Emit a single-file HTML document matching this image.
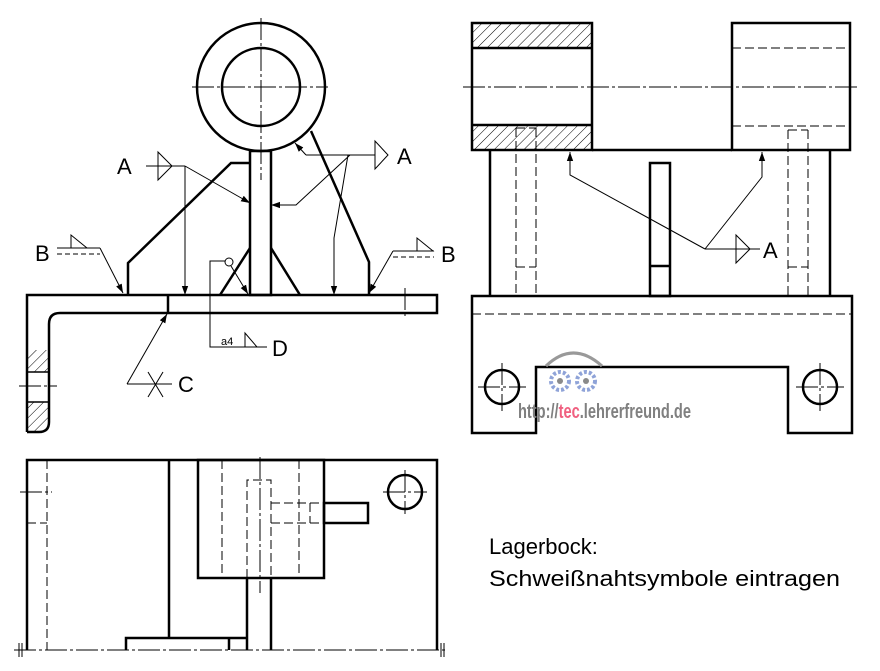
<!DOCTYPE html>
<html><head><meta charset="utf-8"><style>
html,body{margin:0;padding:0;background:#fff}
svg{display:block}
text{font-family:"Liberation Sans",sans-serif}
</style></head><body>
<svg width="880" height="671" viewBox="0 0 880 671" xmlns="http://www.w3.org/2000/svg">
<defs>
<pattern id="h" width="7" height="7" patternUnits="userSpaceOnUse" patternTransform="rotate(45)">
<line x1="0" y1="0" x2="0" y2="7" stroke="#000" stroke-width="1"/>
</pattern>
<marker id="ar" viewBox="0 0 10 10" refX="10" refY="5" markerWidth="9" markerHeight="9" markerUnits="userSpaceOnUse" orient="auto">
<path d="M0,1.5 L10,5 L0,8.5 z" fill="#000"/>
</marker>
</defs>
<rect width="880" height="671" fill="#fff"/>

<!-- ===== LEFT VIEW ===== -->
<rect x="28" y="350" width="20" height="22" fill="url(#h)"/>
<rect x="28" y="402" width="20" height="29" fill="url(#h)"/>
<g fill="none" stroke="#000" stroke-width="2.5" stroke-linejoin="miter">
<circle cx="261" cy="87" r="64"/>
<circle cx="261" cy="87" r="39"/>
<rect x="250" y="151" width="21" height="144"/>
<!-- plate -->
<path d="M27,432 V295 H437 V313 H168"/>
<path d="M168,295 V313"/>
<path d="M168,313 H60 Q49,313 49,324 V422 Q49,432 39,432 H27"/>
<!-- ribs -->
<path d="M250,163 H231 L128,263 V295"/>
<path d="M311,131 L369,262 V295"/>
<path d="M250,248 L220,295 M271,248 L300,295"/>
<line x1="27" y1="372" x2="49" y2="372" stroke-width="1.5"/>
<line x1="27" y1="402" x2="49" y2="402" stroke-width="1.5"/>
</g>
<g stroke="#000" stroke-width="1" fill="none" stroke-dasharray="22,3,3,3">
<line x1="192" y1="87" x2="328" y2="87"/>
<line x1="261" y1="18" x2="261" y2="180"/>
<line x1="19" y1="386" x2="57" y2="386"/>
<line x1="405" y1="288" x2="405" y2="317"/>
</g>

<!-- annotations left -->
<g stroke="#000" stroke-width="1" fill="none">
<line x1="146" y1="166" x2="185" y2="166"/>
<path d="M158,152 V180 L172,166 Z"/>
<line x1="185" y1="166" x2="185" y2="295" marker-end="url(#ar)"/>
<line x1="185" y1="166" x2="250" y2="203" marker-end="url(#ar)"/>
<line x1="306" y1="155" x2="375" y2="155"/>
<path d="M375,141 V169 L388,155 Z"/>
<line x1="306" y1="155" x2="295" y2="143" marker-end="url(#ar)"/>
<polyline points="350,155 296,205 271,205" marker-end="url(#ar)"/>
<polyline points="348,155 334,238 334,295" marker-end="url(#ar)"/>
<line x1="57" y1="248" x2="100" y2="248"/>
<line x1="57" y1="254" x2="100" y2="254" stroke-dasharray="5,3"/>
<path d="M71,235 V248 H87 Z"/>
<line x1="100" y1="248" x2="123" y2="293" marker-end="url(#ar)"/>
<line x1="393" y1="251" x2="434" y2="251"/>
<line x1="393" y1="257" x2="434" y2="257" stroke-dasharray="5,3"/>
<path d="M417,238 V251 H433 Z"/>
<line x1="393" y1="251" x2="369" y2="293" marker-end="url(#ar)"/>
<polyline points="267,347 210,347 210,261 225,261"/>
<circle cx="229" cy="262" r="4"/>
<line x1="231" y1="266" x2="248" y2="294" marker-end="url(#ar)"/>
<path d="M245,333 V347 H257 Z"/>
<line x1="127" y1="384" x2="172" y2="384"/>
<line x1="148" y1="372" x2="163" y2="397"/>
<line x1="163" y1="372" x2="148" y2="397"/>
<line x1="127" y1="384" x2="167" y2="314" marker-end="url(#ar)"/>
</g>
<g font-size="22" fill="#000">
<text x="117" y="174">A</text>
<text x="397" y="164">A</text>
<text x="35" y="261">B</text>
<text x="441" y="262">B</text>
<text x="272" y="356">D</text>
<text x="178" y="392">C</text>
</g>
<text x="221" y="345" font-size="11">a4</text>

<!-- ===== RIGHT VIEW ===== -->
<rect x="473" y="24" width="118" height="24" fill="url(#h)"/>
<rect x="473" y="126" width="118" height="24" fill="url(#h)"/>
<g fill="none" stroke="#000" stroke-width="2.5">
<rect x="472" y="23" width="120" height="127"/>
<line x1="472" y1="48" x2="592" y2="48"/>
<line x1="472" y1="125" x2="592" y2="125"/>
<rect x="732" y="23" width="118" height="127"/>
<line x1="592" y1="150" x2="732" y2="150"/>
<line x1="490" y1="150" x2="490" y2="296"/>
<line x1="830" y1="150" x2="830" y2="296"/>
<rect x="650" y="163" width="20" height="133"/>
<line x1="650" y1="266" x2="670" y2="266"/>
<path d="M472,296 H852 V433 H788 V367 H536 V433 H472 Z"/>
<circle cx="502" cy="387" r="17"/>
<circle cx="820" cy="387" r="17"/>
</g>
<g fill="none" stroke="#000" stroke-width="1" stroke-dasharray="9,4">
<line x1="732" y1="48" x2="850" y2="48"/>
<line x1="732" y1="126" x2="850" y2="126"/>
<path d="M516,128 V296 M536,128 V296 M516,267 H536 M516,128 H536"/>
<path d="M788,130 V296 M808,130 V296 M788,130 H808 M788,267 H808"/>
<line x1="472" y1="314" x2="852" y2="314"/>
</g>
<g stroke="#000" stroke-width="1" fill="none" stroke-dasharray="22,3,3,3">
<line x1="463" y1="87" x2="858" y2="87"/>
<line x1="478" y1="387" x2="526" y2="387"/>
<line x1="502" y1="363" x2="502" y2="411"/>
<line x1="796" y1="387" x2="844" y2="387"/>
<line x1="820" y1="363" x2="820" y2="411"/>
</g>
<g stroke="#000" stroke-width="1" fill="none">
<polyline points="705,249 570,175 570,152" marker-end="url(#ar)"/>
<polyline points="705,249 762,177 762,152" marker-end="url(#ar)"/>
<line x1="705" y1="249" x2="760" y2="249"/>
<path d="M736,235 V263 L750,249 Z"/>
</g>
<text x="763" y="258" font-size="22" fill="#000">A</text>

<!-- watermark -->
<g fill="none" stroke="#8fa3d8" stroke-width="4" stroke-dasharray="3,2">
<circle cx="560" cy="381" r="9"/>
<circle cx="586" cy="381" r="9"/>
</g>
<circle cx="560" cy="381" r="3" fill="#8a8a8a"/>
<circle cx="586" cy="381" r="3" fill="#8a8a8a"/>
<path d="M546,366 Q573,340 602,366" fill="none" stroke="#999" stroke-width="3"/>
<text x="518" y="418" font-size="20" font-weight="bold" fill="#808080" textLength="173" lengthAdjust="spacingAndGlyphs">http://<tspan fill="#f06080">tec</tspan>.lehrerfreund.de</text>

<!-- ===== BOTTOM VIEW ===== -->
<g fill="none" stroke="#000" stroke-width="2.5">
<polyline points="27,650 27,460 437,460 437,650"/>
<line x1="169" y1="460" x2="169" y2="638"/>
<rect x="198" y="460" width="126" height="118"/>
<polyline points="247,578 247,650"/>
<polyline points="271,578 271,650"/>
<polyline points="126,650 126,638 247,638"/>
<line x1="229" y1="638" x2="229" y2="650"/>
<rect x="324" y="503" width="44" height="20"/>
<circle cx="405" cy="492" r="17"/>
</g>
<g fill="none" stroke="#000" stroke-width="1" stroke-dasharray="9,4">
<line x1="47" y1="460" x2="47" y2="650"/>
<line x1="27" y1="523" x2="47" y2="523"/>
<line x1="222" y1="460" x2="222" y2="578"/>
<line x1="299" y1="460" x2="299" y2="578"/>
<path d="M247,578 V480 H271 V578"/>
<line x1="271" y1="503" x2="324" y2="503"/>
<line x1="271" y1="523" x2="324" y2="523"/>
<line x1="310" y1="503" x2="310" y2="523"/>
</g>
<g stroke="#000" stroke-width="1" fill="none" stroke-dasharray="22,3,3,3">
<line x1="14" y1="650" x2="446" y2="650"/>
<line x1="20" y1="492" x2="52" y2="492"/>
<line x1="260" y1="457" x2="260" y2="593"/>
<line x1="383" y1="492" x2="427" y2="492"/>
<line x1="405" y1="470" x2="405" y2="514"/>
</g>
<g stroke="#000" stroke-width="1">
<line x1="19" y1="643" x2="19" y2="657"/><line x1="22" y1="643" x2="22" y2="657"/>
<line x1="441" y1="643" x2="441" y2="657"/><line x1="444" y1="643" x2="444" y2="657"/>
</g>

<!-- caption -->
<text x="489" y="554" font-size="22" fill="#000">Lagerbock:</text>
<text x="489" y="586" font-size="22" fill="#000" textLength="351" lengthAdjust="spacingAndGlyphs">Schweißnahtsymbole eintragen</text>
</svg>
</body></html>
